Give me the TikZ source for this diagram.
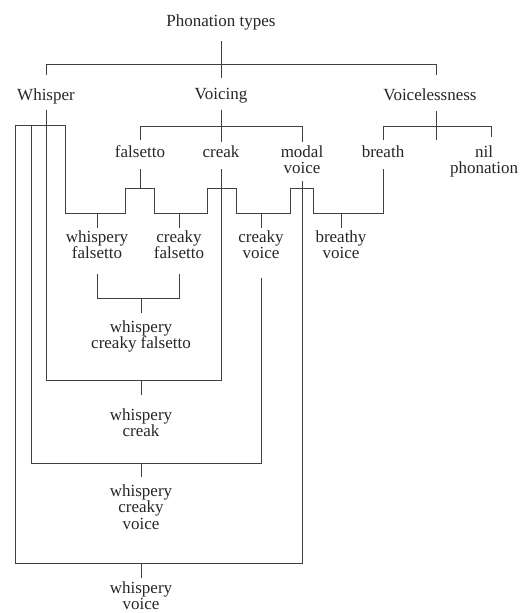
\documentclass[tikz,border=0pt]{standalone}
\usepackage{fontspec}
\setmainfont{Liberation Serif}
\begin{document}
\begin{tikzpicture}[x=1pt,y=-1pt,
  lab/.style={inner sep=0pt, anchor=north, align=center,
    font=\fontsize{17pt}{16.5pt}\selectfont, text=black!85},
  ln/.style={line width=0.9pt, draw=black!75}]
\useasboundingbox (0,0) rectangle (527,613);
% nodes
\node[lab] (ph)  at (221,14.4)  {Phonation types};
\node[lab] (wh)  at (46,88.4)   {Whisper};
\node[lab] (vo)  at (221,88.4)  {Voicing};
\node[lab] (vl)  at (430,88.4)  {Voicelessness};
\node[lab] (fa)  at (140,145.4) {falsetto};
\node[lab] (cr)  at (221,145.4) {creak};
\node[lab] (mv)  at (302,145.4) {modal\\voice};
\node[lab] (br)  at (383,145.4) {breath};
\node[lab] (np)  at (484,145.4) {nil\\phonation};
\node[lab] (wf)  at (97,230.4)  {whispery\\falsetto};
\node[lab] (cf)  at (179,230.4) {creaky\\falsetto};
\node[lab] (cv)  at (261,230.4) {creaky\\voice};
\node[lab] (bv)  at (341,230.4) {breathy\\voice};
\node[lab] (wcf) at (141,320.4) {whispery\\creaky falsetto};
\node[lab] (wc)  at (141,408.4) {whispery\\creak};
\node[lab] (wcv) at (141,484.4) {whispery\\creaky\\voice};
\node[lab] (wv)  at (141,581.4) {whispery\\voice};
% top level
\draw[ln, shorten <=11pt, shorten >=10pt] (ph.south) -- (vo.north);
\draw[ln, shorten <=13pt, shorten >=13pt] (wh.north) -- (wh.north |- 0,64) -- (436,64) -- (vl.north -| 436,0);
% Voicing
\draw[ln, shorten <=6pt, shorten >=3pt] (vo.south) -- (cr.north);
\draw[ln, shorten <=5pt, shorten >=3pt] (fa.north) -- (fa.north |- 0,126) -- (mv.north |- 0,126) -- (mv.north);
% Voicelessness
\draw[ln, shorten <=10pt] (vl.south -| 436,0) -- (436,140);
\draw[ln, shorten <=5pt, shorten >=8pt] (br.north) -- (br.north |- 0,126) -- (491,126) -- (np.north -| 491,0);
% Whisper bar
\draw[ln] (15,125) -- (65,125);
\draw[ln, shorten <=6pt, shorten >=11pt] (wh.south) -- (wh.south |- 0,380) -- (cr.south |- 0,380) -- (cr.south);
\draw[ln, shorten >=19pt] (31,125) -- (31,463) -- (cv.south |- 0,463) -- (cv.south);
\draw[ln, shorten >=7pt] (15,125) -- (15,563) -- (mv.south |- 0,563) -- (mv.south);
% step path
\draw[ln, shorten >=11pt] (65,125) -- (65,213) -- (125,213) -- (125,188) -- (154,188) -- (154,213)
  -- (207,213) -- (207,188) -- (236,188) -- (236,213) -- (290,213) -- (290,188) -- (313,188)
  -- (313,213) -- (br.south |- 0,213) -- (br.south);
\draw[ln, shorten <=11pt] (fa.south) -- (fa.south |- 0,188);
% ticks to second-row combos
\draw[ln, shorten >=2.4pt] (wf.north |- 0,213) -- (wf.north);
\draw[ln, shorten >=2.4pt] (cf.north |- 0,213) -- (cf.north);
\draw[ln, shorten >=2.4pt] (cv.north |- 0,213) -- (cv.north);
\draw[ln, shorten >=2.4pt] (bv.north |- 0,213) -- (bv.north);
% whispery creaky falsetto
\draw[ln, shorten <=15pt, shorten >=15pt] (wf.south) -- (wf.south |- 0,298) -- (cf.south |- 0,298) -- (cf.south);
\draw[ln, shorten >=7pt] (wcf.north |- 0,298) -- (wcf.north);
% lower ticks
\draw[ln, shorten >=13pt] (wc.north |- 0,380) -- (wc.north);
\draw[ln, shorten >=7pt] (wcv.north |- 0,463) -- (wcv.north);
\draw[ln, shorten >=3pt] (wv.north |- 0,563) -- (wv.north);
\end{tikzpicture}
\end{document}
